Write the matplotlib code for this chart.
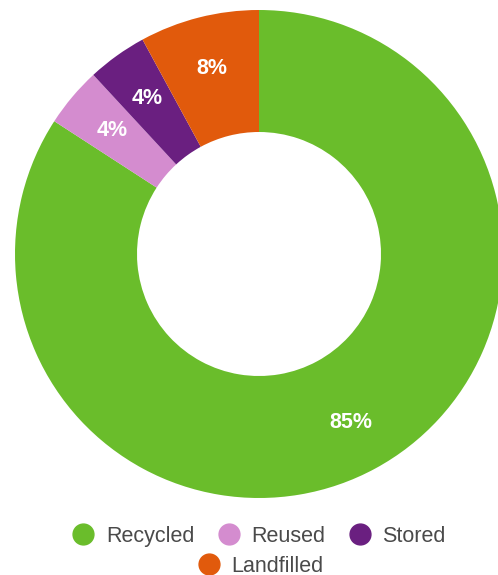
import matplotlib
matplotlib.use("Agg")
import matplotlib.pyplot as plt
from matplotlib.lines import Line2D
import numpy as np

labels = ["Recycled", "Reused", "Stored", "Landfilled"]
values = [85, 4, 4, 8]
colors = ["#6abd2b", "#d48ccf", "#6a1f80", "#e15a0c"]

plt.rcParams['font.family'] = ['Liberation Sans', 'DejaVu Sans']

W, H = 498, 575
fig = plt.figure(figsize=(W / 100, H / 100), dpi=100)

# donut centred at (259, 254) px, outer radius 244 px
cx, cy, r = 259, 254, 244
ax = fig.add_axes([(cx - r) / W, (H - cy - r) / H, 2 * r / W, 2 * r / H])
wedges, _ = ax.pie(values, colors=colors, startangle=90, counterclock=False,
                   radius=1.0, wedgeprops=dict(width=0.5, linewidth=0))

# value labels in the middle of each ring segment
total = sum(values)
ang = 90.0
for v in values:
    mid = np.deg2rad(ang - v / total * 180.0)
    ang -= v / total * 360.0
    ax.text(0.785 * np.cos(mid), 0.785 * np.sin(mid), f"{v}%", color="white",
            fontsize=15.5, fontweight="bold", ha="center", va="center")

ax.set_xlim(-1, 1)
ax.set_ylim(-1, 1)
ax.axis("off")

def handle(c):
    return Line2D([], [], marker="o", linestyle="", markersize=15,
                  markerfacecolor=c, markeredgecolor=c)

common = dict(frameon=False, fontsize=15.5, handletextpad=0.55,
              labelcolor="#4a4a4a", handlelength=1.0, borderaxespad=0,
              borderpad=0)
leg1 = fig.legend([handle(c) for c in colors[:3]], labels[:3], ncol=3,
                  loc="center", bbox_to_anchor=(259 / W, 1 - 536.5 / H),
                  columnspacing=1.1, **common)
leg2 = fig.legend([handle(colors[3])], labels[3:], loc="center",
                  bbox_to_anchor=(261 / W, 1 - 566 / H), **common)

fig.savefig("out.png", dpi=100)
